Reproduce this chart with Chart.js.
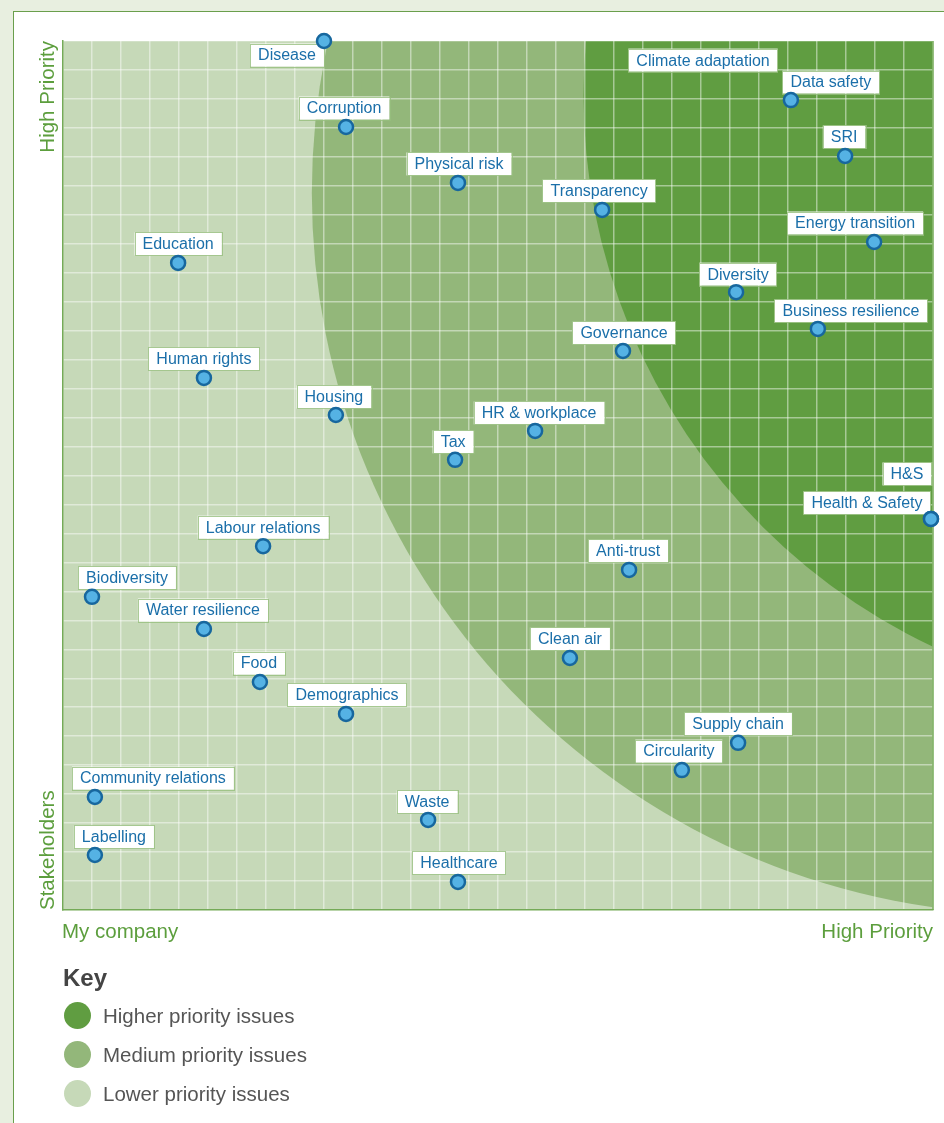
<!DOCTYPE html>
<html>
<head>
<meta charset="utf-8">
<script src="https://cdn.jsdelivr.net/npm/chart.js@4/dist/chart.umd.min.js"></script>
<style>
  html, body { margin: 0; padding: 0; }
  body { width: 944px; height: 1123px; background: #e8efe0; position: relative; overflow: hidden;
         font-family: "Liberation Sans", Arial, sans-serif; }
  #panel { position: absolute; left: 13px; top: 11px; width: 960px; height: 1200px; background: #ffffff;
           border-left: 1.5px solid #6a9f4c; border-top: 1.5px solid #6a9f4c; }
  #wrap { position: absolute; left: 0; top: 0; width: 944px; height: 1123px; }
  #key { position: absolute; left: 63px; top: 960px; }
  #key h3 { margin: 0; font-size: 24px; font-weight: bold; color: #444; line-height: 36px; }
  .item { position: relative; height: 39px; line-height: 39px; font-size: 20.5px; color: #555; padding-left: 40px; }
  .dot { position: absolute; left: 1px; top: 6px; width: 27px; height: 27px; border-radius: 50%; }
</style>
</head>
<body>
<div id="panel"></div>
<div id="wrap"><canvas id="c" width="944" height="1123"></canvas></div>
<div id="key">
  <h3>Key</h3>
  <div class="item"><span class="dot" style="background:#609d41"></span>Higher priority issues</div>
  <div class="item"><span class="dot" style="background:#93b77a"></span>Medium priority issues</div>
  <div class="item"><span class="dot" style="background:#c6d9b8"></span>Lower priority issues</div>
</div>
<script>
// ---- data ----
const issues = ["Disease","Corruption","Physical risk","Transparency","Climate adaptation","Data safety","SRI",
  "Energy transition","Diversity","Business resilience","Governance","Education","Human rights","Housing",
  "HR & workplace","Tax","H&S","Health & Safety","Labour relations","Anti-trust","Biodiversity",
  "Water resilience","Clean air","Food","Demographics","Supply chain","Circularity","Community relations",
  "Waste","Labelling","Healthcare"];
const myCompany = [9.0, 9.76, 13.62, 18.59, 22.07, 25.1, 26.97, 27.97, 23.21, 26.03, 19.31, 3.97, 4.86, 9.41,
  16.28, 13.52, 29.93, 29.93, 6.9, 19.52, 1.0, 4.86, 17.48, 6.79, 9.76, 23.28, 21.34, 1.1, 12.59, 1.1, 13.62];
const stakeholders = [30.0, 27.03, 25.1, 24.17, 29.34, 27.96, 26.03, 23.06, 21.33, 20.06, 19.3, 22.34, 18.37, 17.09,
  16.54, 15.54, 13.5, 13.5, 12.56, 11.74, 10.81, 9.7, 8.7, 7.87, 6.77, 5.77, 4.83, 3.9, 3.11, 1.9, 0.97];
const showMarker = [1,1,1,1,0,1,1,1,1,1,1,1,1,1,1,1,1,1,1,1,1,1,1,1,1,1,1,1,1,1,1];
const axisMin = 0, axisMax = 30;
const gridValues = [0,1,2,3,4,5,6,7,8,9,10,11,12,13,14,15,16,17,18,19,20,21,22,23,24,25,26,27,28,29,30];
const xAxisLabels = ["My company", "High Priority"];
const yAxisLabels = ["Stakeholders", "High Priority"];
const zoneLabels = ["Higher priority issues", "Medium priority issues", "Lower priority issues"];

// ---- layout / style (label offsets in px from the marker) ----
const labelDx = [-37,-2,1,-3,0,40,-1,-19,2,33,1,0,0,-2,4,-2,-24,-64,0,-1,35,-1,0,-1,1,0,-3,58,-1,19,1];
const labelDy = [14,-19,-19,-19,0,-18,-19,-19,-18,-18,-18,-19,-19,-18,-18,-18,-45,-16,-19,-19,-19,-19,-19,-19,-19,-19,-19,-19,-18,-18,-19];
// zone circles in axis units: [cx, cy, r]
const zoneMedium = [33.48, 24.75, 24.9];
const zoneHigher = [39.02, 28.13, 21.07];
const colLow = "#c6d9b8", colMed = "#93b77a", colHigh = "#609d41", colAxis = "#5c9e3d";

const zonesPlugin = {
  id: "zones",
  beforeDraw(chart) {
    const { ctx, chartArea: a, scales: { x, y } } = chart;
    ctx.save();
    ctx.beginPath(); ctx.rect(a.left, a.top, a.right - a.left, a.bottom - a.top); ctx.clip();
    ctx.fillStyle = colLow; ctx.fillRect(a.left, a.top, a.right - a.left, a.bottom - a.top);
    [[zoneMedium, colMed], [zoneHigher, colHigh]].forEach(([z, c]) => {
      const cx = x.getPixelForValue(z[0]), cy = y.getPixelForValue(z[1]);
      const rx = Math.abs(x.getPixelForValue(z[0] + z[2]) - cx);
      const ry = Math.abs(y.getPixelForValue(z[1] + z[2]) - cy);
      ctx.beginPath(); ctx.ellipse(cx, cy, rx, ry, 0, 0, Math.PI * 2);
      ctx.fillStyle = c; ctx.fill();
    });
    ctx.restore();
  },
  beforeDatasetsDraw(chart) {
    const { ctx, chartArea: a } = chart;
    ctx.save();
    // right border
    ctx.strokeStyle = "#74aa57"; ctx.lineWidth = 1.5;
    ctx.beginPath(); ctx.moveTo(a.right, a.top); ctx.lineTo(a.right, a.bottom); ctx.stroke();
    // axis titles
    ctx.fillStyle = colAxis; ctx.font = "20.5px 'Liberation Sans', Arial, sans-serif";
    ctx.textBaseline = "alphabetic";
    ctx.textAlign = "left"; ctx.fillText(xAxisLabels[0], a.left - 1, a.bottom + 28);
    ctx.textAlign = "right"; ctx.fillText(xAxisLabels[1], a.right, a.bottom + 28);
    ctx.translate(a.left - 9, 0); ctx.rotate(-Math.PI / 2);
    ctx.textAlign = "left"; ctx.fillText(yAxisLabels[0], -a.bottom, 0);
    ctx.textAlign = "right"; ctx.fillText(yAxisLabels[1], -a.top, 0);
    ctx.restore();
    // issue labels
    const meta = chart.getDatasetMeta(0);
    ctx.save();
    ctx.font = "16px 'Liberation Sans', Arial, sans-serif";
    ctx.textAlign = "center"; ctx.textBaseline = "middle";
    meta.data.forEach((pt, i) => {
      const t = issues[i];
      const w = ctx.measureText(t).width + 16, h = 23;
      const cx = pt.x + labelDx[i], cy = pt.y + labelDy[i];
      ctx.fillStyle = "#ffffff";
      ctx.fillRect(cx - w / 2, cy - h / 2, w, h);
      ctx.strokeStyle = "rgba(150,190,125,0.8)"; ctx.lineWidth = 1;
      ctx.strokeRect(Math.round(cx - w / 2) + 0.5, Math.round(cy - h / 2) + 0.5, Math.round(w), h);
      ctx.fillStyle = "#1b6fa9";
      ctx.fillText(t, cx, cy + 1);
    });
    ctx.restore();
  }
};

const points = issues.map((n, i) => ({ x: myCompany[i], y: stakeholders[i] }));
const fixTicks = (scale) => { scale.ticks = gridValues.map(v => ({ value: v })); };

new Chart(document.getElementById("c"), {
  type: "scatter",
  data: { datasets: [{
    label: "Issues",
    data: points,
    pointRadius: showMarker.map(s => s ? 7 : 0),
    pointHoverRadius: showMarker.map(s => s ? 7 : 0),
    pointBackgroundColor: "#55b2e4",
    pointBorderColor: "#17679e",
    pointBorderWidth: 2.5,
    clip: false
  }]},
  options: {
    responsive: false, animation: false, devicePixelRatio: 1,
    layout: { padding: { left: 63, top: 41, right: 11, bottom: 213 } },
    plugins: { legend: { display: false }, tooltip: { enabled: false } },
    scales: {
      x: { type: "linear", min: axisMin, max: axisMax, afterBuildTicks: fixTicks,
           ticks: { display: false },
           grid: { color: "rgba(255,255,255,0.45)", lineWidth: 1.5, drawTicks: false },
           border: { color: "#74aa57", width: 1.5 } },
      y: { type: "linear", min: axisMin, max: axisMax, afterBuildTicks: fixTicks,
           ticks: { display: false },
           grid: { color: "rgba(255,255,255,0.45)", lineWidth: 1.5, drawTicks: false },
           border: { color: "#74aa57", width: 1.5 } }
    }
  },
  plugins: [zonesPlugin]
});
</script>
</body>
</html>
